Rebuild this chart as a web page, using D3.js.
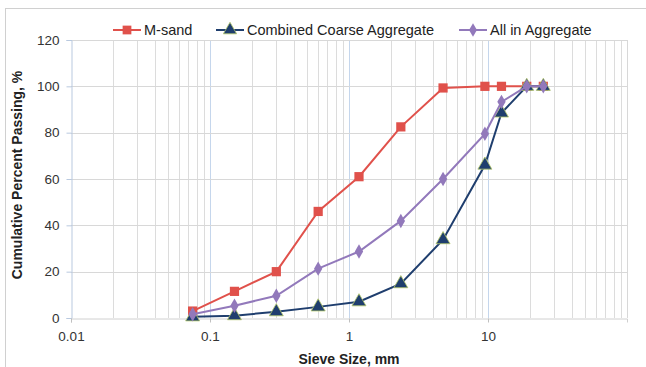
<!DOCTYPE html>
<html><head><meta charset="utf-8">
<script src="https://cdn.jsdelivr.net/npm/d3@7"></script>
<style>body{margin:0;background:#fff;}svg{display:block;font-family:"Liberation Sans",Arial,sans-serif;}</style>
</head><body>
<svg id="c" width="646" height="367"></svg>
<script>
const sieveSizes = [0.075, 0.15, 0.3, 0.6, 1.18, 2.36, 4.75, 9.5, 12.5, 19, 25];
const mSand = [3, 11.5, 20, 46, 61, 82.5, 99.3, 100, 100, 100, 100];
const coarseAgg = [0.5, 1.0, 2.7, 4.8, 7.0, 14.8, 33.8, 66, 88.5, 100, 100];
const allInAgg = [1.6, 5.3, 9.6, 21.3, 28.7, 41.9, 60, 79.5, 93.3, 100, 100];
const seriesNames = ["M-sand", "Combined Coarse Aggregate", "All in Aggregate"];
const yTicks = [0, 20, 40, 60, 80, 100, 120];
const xTickLabels = ["0.01", "0.1", "1", "10"];

const svg = d3.select("#c");
const L = 71, R = 627, T = 40, B = 318;
const x = d3.scaleLog().domain([0.01, 100]).range([L, R]);
const y = d3.scaleLinear().domain([0, 120]).range([B, T]);

// outer frame
svg.append("rect").attr("x", 5.5).attr("y", 8.5).attr("width", 660).attr("height", 400)
  .attr("fill", "none").attr("stroke", "#d0d0d0").attr("stroke-width", 1);

// minor vertical gridlines
const minor = [];
[0.01, 0.1, 1, 10].forEach(d => { for (let k = 2; k <= 9; k++) minor.push(d * k); });
svg.append("g").selectAll("line").data(minor).join("line")
  .attr("x1", d => Math.round(x(d)) + 0.5).attr("x2", d => Math.round(x(d)) + 0.5)
  .attr("y1", T).attr("y2", B).attr("stroke", "#dcdcdc");
// major vertical gridlines
svg.append("g").selectAll("line").data([0.1, 1, 10]).join("line")
  .attr("x1", d => Math.round(x(d)) + 0.5).attr("x2", d => Math.round(x(d)) + 0.5)
  .attr("y1", T).attr("y2", B).attr("stroke", "#c5d6ec");
// right edge
svg.append("line").attr("x1", R + 0.5).attr("x2", R + 0.5).attr("y1", T).attr("y2", B).attr("stroke", "#d8d8d8");
// horizontal gridlines
svg.append("g").selectAll("line").data(yTicks.filter(d => d > 0)).join("line")
  .attr("x1", L).attr("x2", R).attr("y1", d => Math.round(y(d)) + 0.5).attr("y2", d => Math.round(y(d)) + 0.5)
  .attr("stroke", "#d8d8d8");

// axes
const yAxis = d3.axisLeft(y).tickValues(yTicks).tickSize(5).tickPadding(7);
const gy = svg.append("g").attr("transform", `translate(${L + 0.5},0)`).call(yAxis);
gy.select(".domain").attr("stroke", "#b9c9df");
gy.selectAll(".tick line").attr("stroke", "#b9c9df");
gy.selectAll("text").attr("font-size", 13.5).attr("fill", "#333").attr("font-family", "Liberation Sans, Arial");

const xAxis = d3.axisBottom(x).tickValues(xTickLabels.map(Number)).tickFormat((d, i) => xTickLabels[i]).tickSize(4).tickPadding(9);
const gx = svg.append("g").attr("transform", `translate(0,${B + 0.5})`).call(xAxis);
gx.select(".domain").attr("stroke", "#d0d0d0");
gx.selectAll(".tick line").attr("stroke", "#c0c0c0");
gx.selectAll("text").attr("font-size", 13.5).attr("fill", "#333").attr("font-family", "Liberation Sans, Arial");

// axis titles
svg.append("text").attr("transform", "translate(22,175) rotate(-90)").attr("text-anchor", "middle")
  .attr("font-size", 14).attr("font-weight", "bold").attr("fill", "#222").text("Cumulative Percent Passing, %");
svg.append("text").attr("x", 349).attr("y", 364).attr("text-anchor", "middle")
  .attr("font-size", 14).attr("font-weight", "bold").attr("fill", "#222").text("Sieve Size, mm");

const colors = ["#e0514b", "#1f3e6e", "#9279bb"];
const data = [mSand, coarseAgg, allInAgg];
const shapes = [d3.symbolSquare, d3.symbolTriangle, d3.symbolDiamond];
const sizes = [85, 85, 60];
const line = d3.line().x(d => x(d[0])).y(d => y(d[1]));

data.forEach((vals, i) => {
  const pts = sieveSizes.map((s, j) => [s, vals[j]]);
  const g = svg.append("g");
  g.append("path").datum(pts).attr("d", line).attr("fill", "none").attr("stroke", colors[i]).attr("stroke-width", 2);
  g.selectAll("path.m").data(pts).join("path").attr("class", "m")
    .attr("transform", d => `translate(${x(d[0])},${y(d[1])})`)
    .attr("d", d3.symbol().type(shapes[i]).size(sizes[i]))
    .attr("fill", colors[i])
    .attr("stroke", i === 1 ? "#b5c96a" : "none").attr("stroke-width", i === 1 ? 0.8 : 0);
});

// legend
const legX = [113, 216, 459];
const lg = svg.append("g");
seriesNames.forEach((n, i) => {
  const lx = legX[i], ly = 30;
  lg.append("line").attr("x1", lx).attr("x2", lx + 28).attr("y1", ly).attr("y2", ly).attr("stroke", colors[i]).attr("stroke-width", 2);
  lg.append("path").attr("transform", `translate(${lx + 14},${ly})`).attr("d", d3.symbol().type(shapes[i]).size(sizes[i] * 0.9)).attr("fill", colors[i])
    .attr("stroke", i === 1 ? "#b5c96a" : "none").attr("stroke-width", i === 1 ? 0.8 : 0);
  lg.append("text").attr("x", lx + 31).attr("y", ly + 5).attr("font-size", 14.5).attr("fill", "#222").text(n);
});
</script>
</body></html>
